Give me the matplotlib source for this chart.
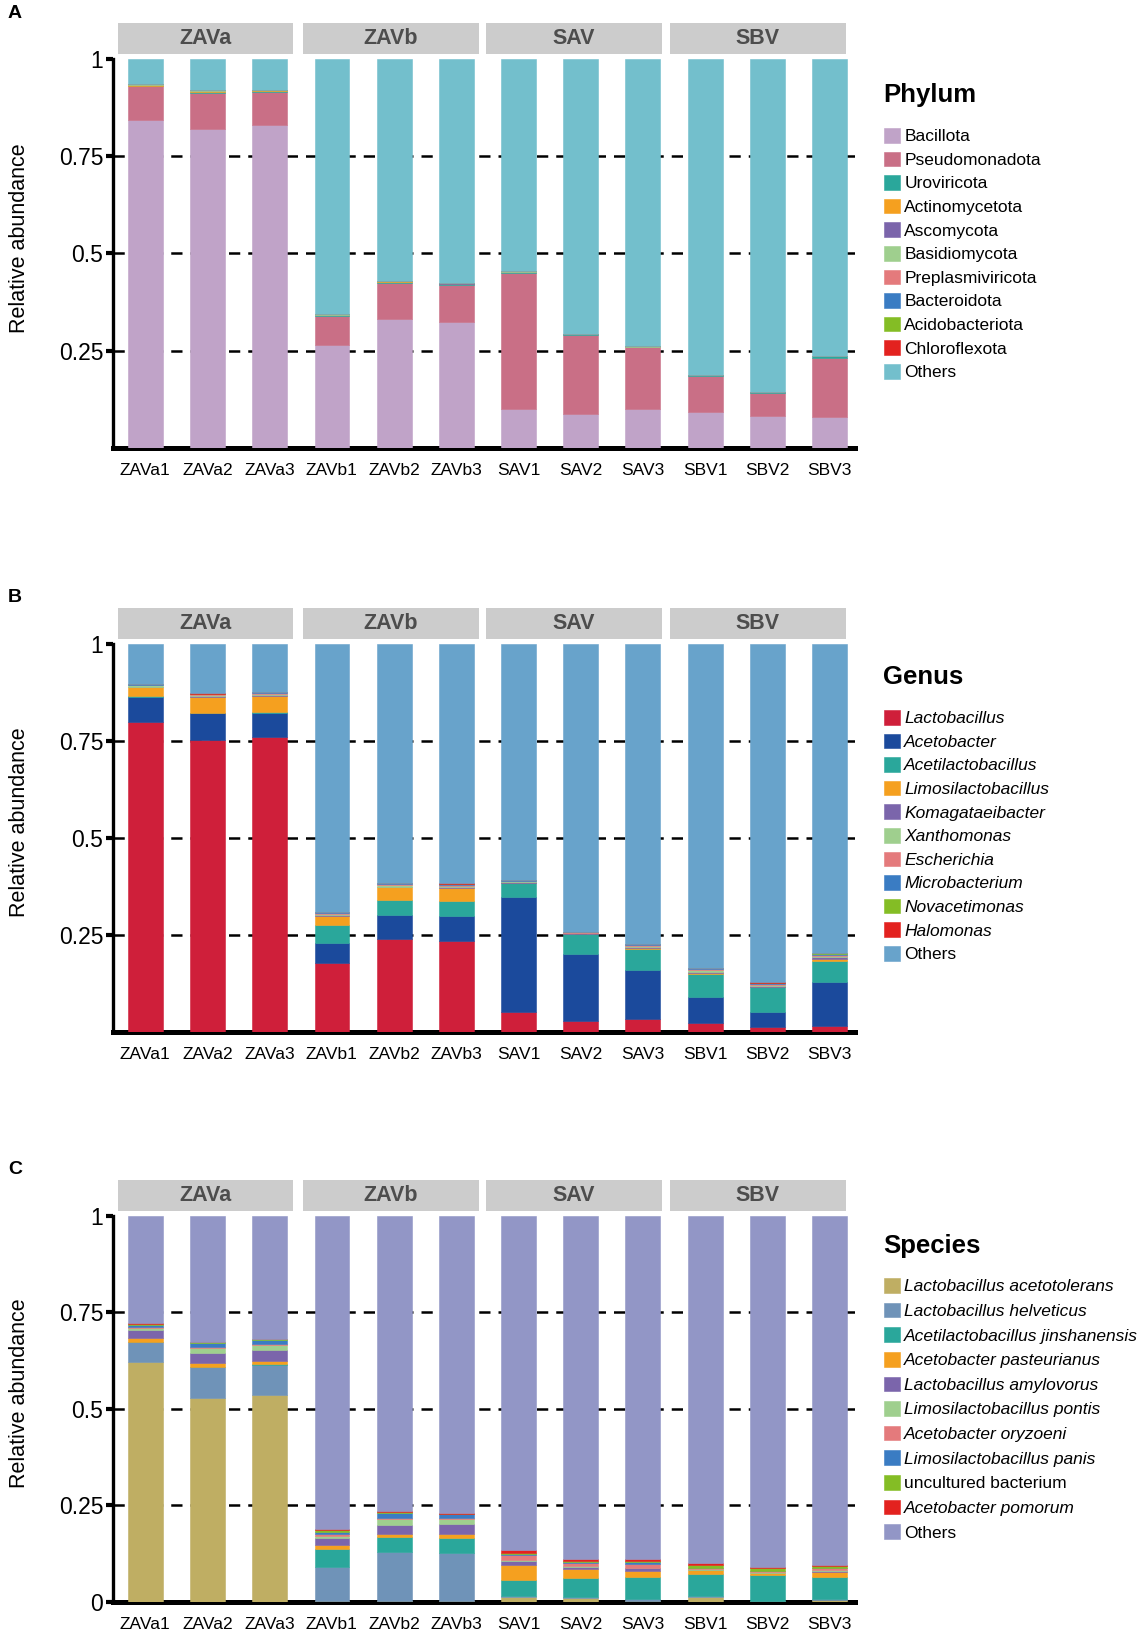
import matplotlib
matplotlib.use("Agg")
import matplotlib.pyplot as plt
import matplotlib.transforms as mtransforms
from matplotlib.patches import Rectangle
import numpy as np

plt.rcParams['font.family'] = ['Liberation Sans', 'DejaVu Sans']

# samples / groups
samples = ['ZAVa1', 'ZAVa2', 'ZAVa3', 'ZAVb1', 'ZAVb2', 'ZAVb3',
           'SAV1', 'SAV2', 'SAV3', 'SBV1', 'SBV2', 'SBV3']
groups = ['ZAVa', 'ZAVb', 'SAV', 'SBV']

# ---- Phylum ----
phylum_names = ['Bacillota', 'Pseudomonadota', 'Uroviricota', 'Actinomycetota', 'Ascomycota',
                'Basidiomycota', 'Preplasmiviricota', 'Bacteroidota', 'Acidobacteriota',
                'Chloroflexota', 'Others']
phylum_colors = ['#c0a3c8', '#c96f86', '#2aa79b', '#f5a01f', '#7b65ab', '#9fcf8e',
                 '#e47a7c', '#3a7cc3', '#84bd25', '#e3221f', '#73bfcc']
bacillota = [0.843, 0.820, 0.829, 0.263, 0.330, 0.324, 0.099, 0.087, 0.100, 0.093, 0.082, 0.080]
pseudomonadota = [0.087, 0.093, 0.086, 0.077, 0.095, 0.095, 0.351, 0.202, 0.158, 0.092, 0.060, 0.152]
uroviricota = [0.001, 0.002, 0.002, 0.001, 0.001, 0.001, 0.002, 0.003, 0.001, 0.002, 0.001, 0.003]
actinomycetota = [0.002, 0.002, 0.002, 0.001, 0.002, 0.002, 0.001, 0.001, 0.001, 0.001, 0.001, 0.001]
ascomycota = [0.001, 0.001, 0.001, 0.0, 0.001, 0.001, 0.0, 0.0, 0.0, 0.0, 0.0, 0.0]
basidiomycota = [0.001, 0.001, 0.001, 0.001, 0.001, 0.001, 0.001, 0.0, 0.001, 0.0, 0.0, 0.0]
preplasmiviricota = [0.0] * 12
bacteroidota = [0.0] * 12
acidobacteriota = [0.0] * 12
chloroflexota = [0.0] * 12
phylum_others = [0.065, 0.081, 0.079, 0.657, 0.570, 0.576, 0.546, 0.707, 0.739, 0.812, 0.856, 0.764]

# ---- Genus ----
genus_names = ['Lactobacillus', 'Acetobacter', 'Acetilactobacillus', 'Limosilactobacillus',
               'Komagataeibacter', 'Xanthomonas', 'Escherichia', 'Microbacterium',
               'Novacetimonas', 'Halomonas', 'Others']
genus_colors = ['#cf1f3a', '#1b4a9c', '#2aa79b', '#f5a01f', '#7b65ab', '#9fcf8e',
                '#e47a7c', '#3a7cc3', '#84bd25', '#e3221f', '#68a3cb']
lactobacillus = [0.799, 0.751, 0.760, 0.178, 0.238, 0.234, 0.051, 0.028, 0.033, 0.023, 0.011, 0.015]
acetobacter = [0.063, 0.069, 0.061, 0.050, 0.063, 0.064, 0.295, 0.171, 0.126, 0.067, 0.041, 0.112]
acetilactobacillus = [0.002, 0.002, 0.002, 0.048, 0.039, 0.039, 0.036, 0.052, 0.053, 0.058, 0.062, 0.054]
limosilactobacillus = [0.023, 0.040, 0.041, 0.022, 0.032, 0.032, 0.002, 0.001, 0.004, 0.004, 0.002, 0.006]
komagataeibacter = [0.002, 0.002, 0.003, 0.002, 0.002, 0.003, 0.001, 0.001, 0.003, 0.003, 0.002, 0.005]
xanthomonas = [0.003, 0.003, 0.003, 0.004, 0.004, 0.004, 0.002, 0.001, 0.002, 0.003, 0.002, 0.003]
escherichia = [0.002, 0.002, 0.003, 0.003, 0.003, 0.003, 0.002, 0.002, 0.003, 0.003, 0.004, 0.003]
microbacterium = [0.001, 0.002, 0.002, 0.001, 0.002, 0.002, 0.001, 0.001, 0.001, 0.002, 0.002, 0.002]
novacetimonas = [0.0, 0.0, 0.0, 0.0, 0.0, 0.0, 0.001, 0.0, 0.001, 0.001, 0.0, 0.002]
halomonas = [0.001, 0.001, 0.001, 0.001, 0.001, 0.001, 0.001, 0.001, 0.001, 0.001, 0.001, 0.001]
genus_others = [0.104, 0.128, 0.124, 0.691, 0.616, 0.618, 0.608, 0.742, 0.773, 0.835, 0.873, 0.797]

# ---- Species ----
species_names = ['Lactobacillus acetotolerans', 'Lactobacillus helveticus',
                 'Acetilactobacillus jinshanensis', 'Acetobacter pasteurianus',
                 'Lactobacillus amylovorus', 'Limosilactobacillus pontis',
                 'Acetobacter oryzoeni', 'Limosilactobacillus panis',
                 'uncultured bacterium', 'Acetobacter pomorum', 'Others']
species_colors = ['#bfae63', '#6f93b8', '#2aa79b', '#f5a01f', '#7b65ab', '#9fcf8e',
                  '#e47a7c', '#3a7cc3', '#84bd25', '#e3221f', '#9296c6']
acetotolerans = [0.620, 0.528, 0.535, 0.002, 0.003, 0.003, 0.012, 0.010, 0.003, 0.012, 0.002, 0.006]
helveticus = [0.052, 0.080, 0.079, 0.089, 0.126, 0.123, 0.004, 0.003, 0.004, 0.003, 0.001, 0.002]
jinshanensis = [0.002, 0.001, 0.001, 0.047, 0.039, 0.040, 0.040, 0.049, 0.057, 0.057, 0.066, 0.056]
pasteurianus = [0.009, 0.009, 0.009, 0.009, 0.009, 0.009, 0.039, 0.024, 0.017, 0.010, 0.006, 0.013]
amylovorus = [0.020, 0.026, 0.028, 0.019, 0.023, 0.026, 0.011, 0.004, 0.006, 0.002, 0.001, 0.004]
pontis = [0.007, 0.014, 0.013, 0.006, 0.015, 0.014, 0.002, 0.002, 0.002, 0.001, 0.001, 0.002]
oryzoeni = [0.003, 0.001, 0.002, 0.004, 0.002, 0.002, 0.013, 0.008, 0.009, 0.002, 0.002, 0.004]
panis = [0.005, 0.012, 0.011, 0.006, 0.013, 0.010, 0.004, 0.003, 0.005, 0.001, 0.001, 0.002]
uncultured = [0.001, 0.001, 0.002, 0.005, 0.003, 0.002, 0.003, 0.004, 0.004, 0.009, 0.008, 0.005]
pomorum = [0.002, 0.001, 0.002, 0.002, 0.002, 0.002, 0.006, 0.004, 0.004, 0.003, 0.002, 0.003]
species_others = [0.279, 0.327, 0.318, 0.811, 0.765, 0.769, 0.866, 0.889, 0.889, 0.900, 0.910, 0.903]

phylum_data = [bacillota, pseudomonadota, uroviricota, actinomycetota, ascomycota, basidiomycota,
               preplasmiviricota, bacteroidota, acidobacteriota, chloroflexota, phylum_others]
genus_data = [lactobacillus, acetobacter, acetilactobacillus, limosilactobacillus, komagataeibacter,
              xanthomonas, escherichia, microbacterium, novacetimonas, halomonas, genus_others]
species_data = [acetotolerans, helveticus, jinshanensis, pasteurianus, amylovorus, pontis,
                oryzoeni, panis, uncultured, pomorum, species_others]

W, H = 1139, 1637
fig = plt.figure(figsize=(W / 100, H / 100), dpi=100)

# strip header centres (in bar units) - the original headers sit a bit left of the groups
strip_centres = [0.97, 3.95, 6.89, 9.85]

def px_axes(left, top, right, bottom):
    return fig.add_axes([left / W, 1 - bottom / H, (right - left) / W, (bottom - top) / H])

def draw_panel(top, bottom, letter, names, colors, data, title, title_y, italic_skip,
               show_zero, leg_top, leg_pitch):
    ax = px_axes(113, top, 855, bottom)
    x = np.arange(len(samples))
    base = np.zeros(len(samples))
    handles = []
    for name, col, vals in zip(names, colors, data):
        b = ax.bar(x, vals, bottom=base, width=0.56, color=col, edgecolor=col,
                   linewidth=0.4, zorder=3, label=name)
        handles.append(b)
        base = base + np.array(vals)

    for yv in [0.25, 0.5, 0.75]:
        ax.axhline(yv, color='black', lw=1.8, dashes=(4.5, 3.2), zorder=1)

    ax.set_xlim(-0.52, 11.41)
    ax.set_ylim(0, 1)
    ax.spines['top'].set_visible(False)
    ax.spines['right'].set_visible(False)
    ax.spines['left'].set_linewidth(2.4)
    ax.spines['bottom'].set_linewidth(3.6)
    ax.set_xticks(x)
    ax.set_xticklabels(samples, family=['Liberation Sans Narrow', 'Liberation Sans'], fontsize=12.5)
    ax.tick_params(axis='x', length=0, pad=11)
    if show_zero:
        ticks = [0, 0.25, 0.5, 0.75, 1]
        labels = ['0', '0.25', '0.5', '0.75', '1']
    else:
        ticks = [0.25, 0.5, 0.75, 1]
        labels = ['0.25', '0.5', '0.75', '1']
    ax.set_yticks(ticks)
    ax.set_yticklabels(labels, fontsize=16.5)
    ax.tick_params(axis='y', length=5, width=3, direction='out', pad=2)
    ax.set_ylabel('Relative abundance', fontsize=15.5)
    ax.yaxis.set_label_coords(-0.112, 0.54)

    # grey strip headers for groups
    trans = mtransforms.blended_transform_factory(ax.transData, ax.transAxes)
    ah = bottom - top
    for c, g in zip(strip_centres, groups):
        r = Rectangle((c - 1.41, 1 + 5 / ah), 2.82, 31 / ah, transform=trans,
                      facecolor='#cccccc', edgecolor='none', clip_on=False)
        ax.add_patch(r)
        ax.text(c, 1 + 20.5 / ah, g, transform=trans, ha='center', va='center',
                fontsize=15.5, fontweight='bold', color='#4d4d4d')

    fig.text(8 / W, 1 - (top - 46) / H, letter, fontsize=14, fontweight='bold', va='center')

    # legend
    fig.text(883 / W, 1 - title_y / H, title, fontsize=18.5, fontweight='bold', va='center')
    leg = fig.legend(handles=handles, labels=names, loc='upper left',
                     bbox_to_anchor=(884 / W, 1 - leg_top / H), frameon=False,
                     fontsize=12.5, handlelength=0.92, handleheight=0.92,
                     handletextpad=0.25, borderpad=0, borderaxespad=0,
                     labelspacing=leg_pitch)
    for t in leg.get_texts():
        if t.get_text() not in italic_skip:
            t.set_fontstyle('italic')
    return ax

draw_panel(59, 447.7, 'A', phylum_names, phylum_colors, phylum_data, 'Phylum', 95,
           phylum_names, False, 128, 0.42)
draw_panel(643.5, 1031.7, 'B', genus_names, genus_colors, genus_data, 'Genus', 677,
           ['Others'], False, 710, 0.42)
draw_panel(1215.7, 1602, 'C', species_names, species_colors, species_data, 'Species', 1246,
           ['Others', 'uncultured bacterium'], True, 1278, 0.48)

fig.savefig('out.png', dpi=100)
